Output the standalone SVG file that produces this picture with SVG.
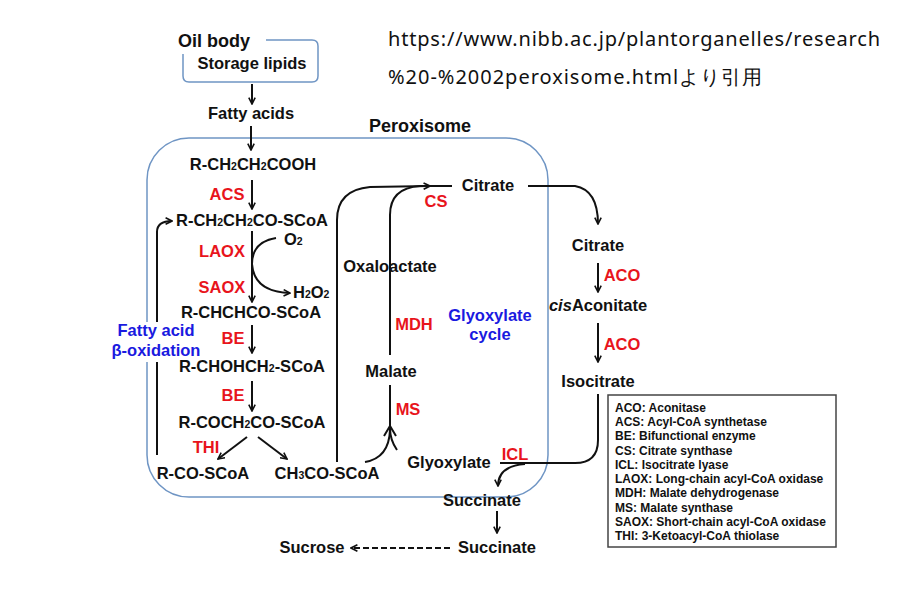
<svg xmlns="http://www.w3.org/2000/svg" width="923" height="589" viewBox="0 0 923 589">
<defs>
<marker id="ah" viewBox="0 0 10 10" refX="9" refY="5" markerWidth="8" markerHeight="8" orient="auto" markerUnits="userSpaceOnUse"><path d="M1,1 L9,5 L1,9" fill="none" stroke="#111" stroke-width="2"/></marker>
</defs>
<style>
text{font-family:"Liberation Sans",Arial,sans-serif;font-weight:bold;font-size:16.5px;fill:#111}
.c{text-anchor:middle}
.r{fill:#e8141c}
.b{fill:#1a1ae0}
.l{font-size:12px}
.t{font-size:18px}
.s{font-size:10.5px}
.u{font-family:"Noto Sans",sans-serif;font-weight:normal;font-size:20px}
.ln{fill:none;stroke:#111;stroke-width:2}
</style>
<rect width="923" height="589" fill="#fff"/>
<g id="oilbody">
<path d="M266,40 H312 Q318,40 318,46 V76 Q318,82 312,82 H189 Q183,82 183,76 V54" fill="none" stroke="#6f95c4" stroke-width="1.5"/>
<text x="178" y="47" class="t">Oil body</text>
<text x="252" y="69" class="c">Storage lipids</text>
</g>
<g id="peroxisome">
<rect x="147" y="138" width="401" height="359" rx="42" fill="none" stroke="#6f95c4" stroke-width="1.5"/>
<text x="420" y="132" class="c t" font-size="19">Peroxisome</text>
</g>
<g id="url">
<text x="388" y="46" class="u" textLength="492">https://www.nibb.ac.jp/plantorganelles/research</text>
<text x="388" y="84" class="u" textLength="374">%20-%2002peroxisome.htmlより引用</text>
</g>
<g id="connectors">
<path class="ln" d="M252,84 V104" marker-end="url(#ah)"/>
<path class="ln" d="M251,126 V150" marker-end="url(#ah)"/>
<path class="ln" d="M252,180 V209" marker-end="url(#ah)"/>
<path class="ln" d="M157,455 V232 Q157,221 172,221" marker-end="url(#ah)"/>
<path class="ln" d="M252,231 V302" marker-end="url(#ah)"/>
<path class="ln" d="M276,238 Q252,242 252,264 Q254,292 290,293" marker-end="url(#ah)"/>
<path class="ln" d="M252,325 V353" marker-end="url(#ah)"/>
<path class="ln" d="M252,381 V411" marker-end="url(#ah)"/>
<path class="ln" d="M247,437 L218,459" marker-end="url(#ah)"/>
<path class="ln" d="M258,437 L287,459" marker-end="url(#ah)"/>
<path class="ln" d="M337,462 V220 Q337,190 370,187 L430,186" marker-end="url(#ah)"/>
<path class="ln" d="M390,290 V215 Q390,188 420,186 H452"/>
<path class="ln" d="M390,285 V355"/>
<path class="ln" d="M390,385 V430"/>
<path class="ln" d="M365,462 Q389,458 390,430"/>
<path class="ln" d="M397,450 Q390,440 390,428"/>
<path class="ln" d="M384,436 L390,426 L396,436"/>
<path class="ln" d="M528,186 H575 Q598,190 598,224" marker-end="url(#ah)"/>
<path class="ln" d="M598,263 V292" marker-end="url(#ah)"/>
<path class="ln" d="M598,323 V362" marker-end="url(#ah)"/>
<path class="ln" d="M598,394 V440 Q598,463 575,463 H500"/>
<path class="ln" d="M525,464 Q498,466 498,486" marker-end="url(#ah)"/>
<path class="ln" d="M497,511 V533" marker-end="url(#ah)"/>
<path class="ln" d="M450,548 H351" stroke-dasharray="6,3" marker-end="url(#ah)"/>
</g>
<g id="labels">
<text x="251" y="119" class="c">Fatty acids</text>
<text x="253" y="170" class="c">R-CH<tspan class="s">2</tspan>CH<tspan class="s">2</tspan>COOH</text>
<text x="227" y="200" class="c r">ACS</text>
<text x="252" y="226" class="c">R-CH<tspan class="s">2</tspan>CH<tspan class="s">2</tspan>CO-SCoA</text>
<text x="222" y="257" class="c r">LAOX</text>
<text x="284" y="245">O<tspan class="s">2</tspan></text>
<text x="222" y="293" class="c r">SAOX</text>
<text x="293" y="298">H<tspan class="s">2</tspan>O<tspan class="s">2</tspan></text>
<text x="251" y="318" class="c">R-CHCHCO-SCoA</text>
<rect x="116" y="322" width="82" height="40" fill="#fff"/>
<text x="156" y="336" class="c b">Fatty acid</text>
<text x="156" y="356" class="c b">β-oxidation</text>
<text x="233" y="344" class="c r">BE</text>
<text x="252" y="372" class="c">R-CHOHCH<tspan class="s">2</tspan>-SCoA</text>
<text x="233" y="401" class="c r">BE</text>
<text x="252" y="428" class="c">R-COCH<tspan class="s">2</tspan>CO-SCoA</text>
<text x="206" y="453" class="c r">THI</text>
<text x="203" y="479" class="c">R-CO-SCoA</text>
<text x="327" y="479" class="c">CH<tspan class="s">3</tspan>CO-SCoA</text>
<text x="488" y="191" class="c">Citrate</text>
<text x="436" y="207" class="c r">CS</text>
<text x="390" y="272" class="c">Oxaloactate</text>
<text x="414" y="330" class="c r">MDH</text>
<text x="490" y="321" class="c b">Glyoxylate</text>
<text x="490" y="340" class="c b">cycle</text>
<text x="391" y="377" class="c">Malate</text>
<text x="408" y="415" class="c r">MS</text>
<text x="449" y="468" class="c">Glyoxylate</text>
<text x="515" y="460" class="c r">ICL</text>
<text x="482" y="506" class="c">Succinate</text>
<text x="497" y="553" class="c">Succinate</text>
<text x="312" y="553" class="c">Sucrose</text>
<text x="598" y="251" class="c">Citrate</text>
<text x="622" y="281" class="c r">ACO</text>
<text x="598" y="311" class="c"><tspan font-style="italic">cis</tspan>Aconitate</text>
<text x="622" y="350" class="c r">ACO</text>
<text x="598" y="387" class="c">Isocitrate</text>
</g>
<g id="legend">
<rect x="608" y="395" width="228" height="152" fill="none" stroke="#444" stroke-width="1.5"/>
<text x="615" y="412" class="l">ACO: Aconitase</text>
<text x="615" y="426" class="l">ACS: Acyl-CoA synthetase</text>
<text x="615" y="440" class="l">BE: Bifunctional enzyme</text>
<text x="615" y="455" class="l">CS: Citrate synthase</text>
<text x="615" y="469" class="l">ICL: Isocitrate lyase</text>
<text x="615" y="483" class="l">LAOX: Long-chain acyl-CoA oxidase</text>
<text x="615" y="497" class="l">MDH: Malate dehydrogenase</text>
<text x="615" y="512" class="l">MS: Malate synthase</text>
<text x="615" y="526" class="l">SAOX: Short-chain acyl-CoA oxidase</text>
<text x="615" y="540" class="l">THI: 3-Ketoacyl-CoA thiolase</text>
</g>
</svg>
